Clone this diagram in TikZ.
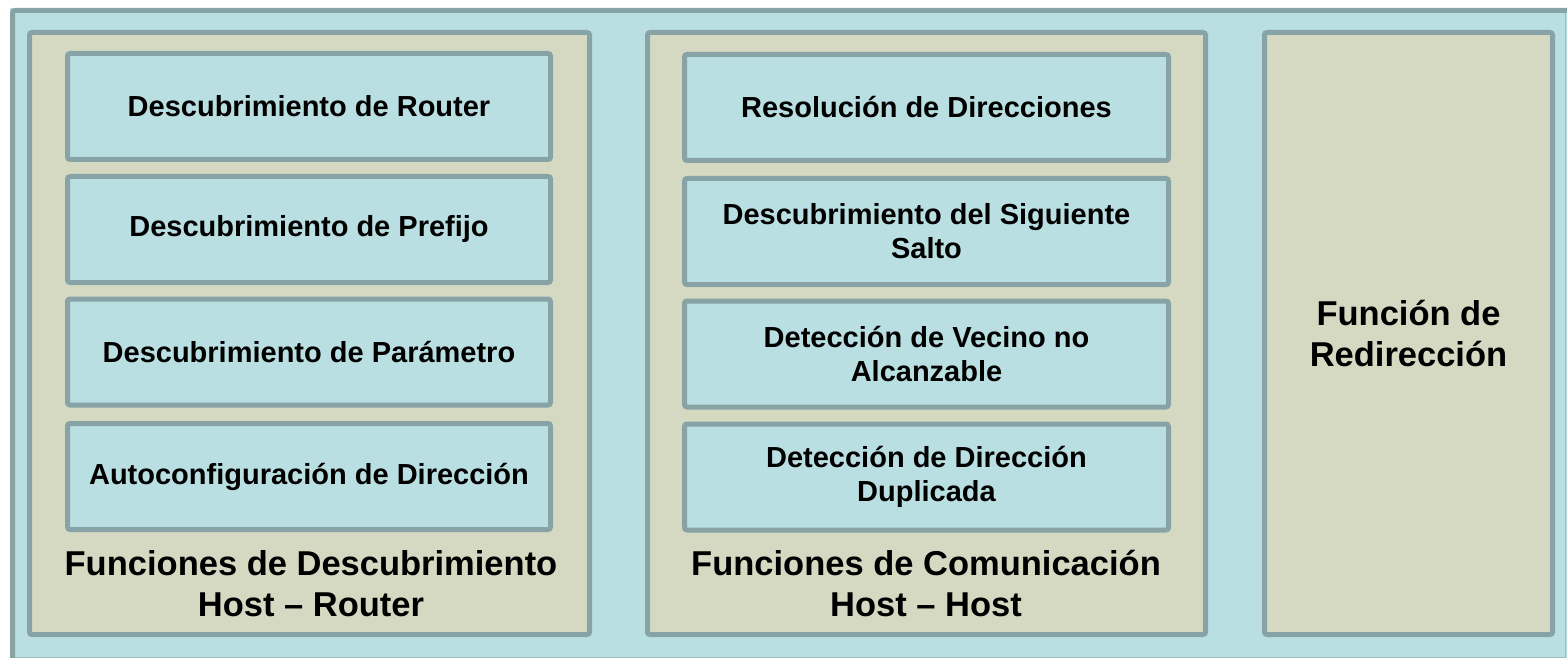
\documentclass[tikz,border=0pt]{standalone}
\usepackage{fontspec}
\setmainfont{Liberation Sans}
\definecolor{lblue}{HTML}{B9DFE2}
\definecolor{beige}{HTML}{D5D9C2}
\definecolor{framec}{HTML}{88A3A6}
\begin{document}
\begin{tikzpicture}[x=1pt,y=-1pt,
  box/.style={draw=framec, line width=5pt, rounded corners=2.5pt, fill=lblue,
    font=\bfseries\fontsize{29}{34}\selectfont, align=center, inner sep=0pt,
    minimum height=106pt},
  group/.style={draw=framec, line width=5pt, rounded corners=2.5pt, fill=beige, inner sep=0pt,
    minimum height=602pt},
  glabel/.style={font=\bfseries\fontsize{34.5}{41}\selectfont, align=center, inner sep=0pt}]
\useasboundingbox (0,0) rectangle (1567,658);
\fill[white] (0,0) rectangle (1567,658);
\fill[lblue] (10,8) rectangle (1567,658);
\draw[framec!55!lblue, line width=1pt] (10,657.5) -- (1565.5,657.5) -- (1565.5,8);
\draw[framec, line width=5pt, rounded corners=2.5pt] (12.5,658) -- (12.5,10.5) -- (1567,10.5);

% groups
\node[group, minimum width=560pt] (g1) at (309.5,333.5) {};
\node[group, minimum width=558pt] (g2) at (926.5,333.5) {};
\node[group, minimum width=288pt, glabel] (g3) at (1408.5,333.5) {Función de\\Redirección};

% group 1 boxes
\node[box, minimum width=483pt] (a1) at (309,106.5) {Descubrimiento de Router};
\node[box, minimum width=483pt] (a2) at (309,229.5) {Descubrimiento de Prefijo};
\node[box, minimum width=483pt] (a3) at (309,352) {Descubrimiento de Parámetro};
\node[box, minimum width=483pt] (a4) at (309,476.5) {Autoconfiguración de Dirección};
\node[glabel] (l1) at (311,583.5) {Funciones de Descubrimiento\\Host – Router};

% group 2 boxes
\node[box, minimum width=484pt] (b1) at (926.5,107.5) {Resolución de Direcciones};
\node[box, minimum width=484pt] (b2) at (926.5,231.5) {Descubrimiento del Siguiente\\Salto};
\node[box, minimum width=484pt] (b3) at (926.5,354) {Detección de Vecino no\\Alcanzable};
\node[box, minimum width=484pt] (b4) at (926.5,477) {Detección de Dirección\\Duplicada};
\node[glabel] (l2) at (926,583.5) {Funciones de Comunicación\\Host – Host};
\end{tikzpicture}
\end{document}
